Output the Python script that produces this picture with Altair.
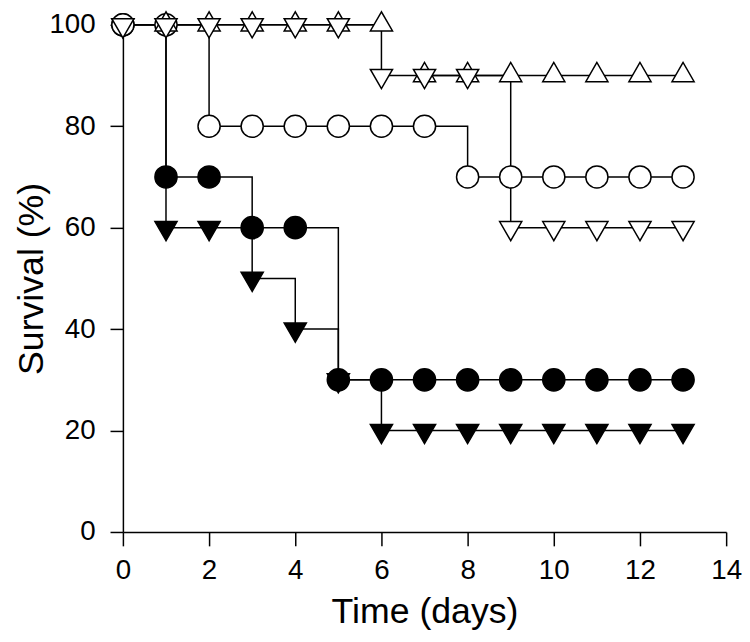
import altair as alt
import pandas as pd

# ---- data ----
days = list(range(14))
filled_circle = [100, 70, 70, 60, 60, 30, 30, 30, 30, 30, 30, 30, 30, 30]
filled_down = [100, 60, 60, 50, 40, 30, 20, 20, 20, 20, 20, 20, 20, 20]
open_circle = [100, 100, 80, 80, 80, 80, 80, 80, 70, 70, 70, 70, 70, 70]
open_down = [100, 100, 100, 100, 100, 100, 90, 90, 90, 60, 60, 60, 60, 60]
open_up_days = list(range(1, 14))
open_up = [100, 100, 100, 100, 100, 100, 90, 90, 90, 90, 90, 90, 90]
open_up_segment = [1, 1, 1, 1, 1, 1, 2, 2, 2, 2, 2, 2, 2]

x_ticks = [0, 2, 4, 6, 8, 10, 12, 14]
y_ticks = [0, 20, 40, 60, 80, 100]

# (name, days, values, segments, shape, fill, yOffset)
series = [
    ("filled_circle", days, filled_circle, [1] * 14, "circle", "black", 0),
    ("filled_down", days, filled_down, [1] * 14, "triangle-down", "black", 3.5),
    ("open_circle", days, open_circle, [1] * 14, "circle", "white", 0),
    ("open_up", open_up_days, open_up, open_up_segment, "triangle-up", "white", -3.5),
    ("open_down", days, open_down, [1] * 14, "triangle-down", "white", 3.5),
]

rows = []
for name, d, v, seg, *_ in series:
    for di, vi, si in zip(d, v, seg):
        rows.append({"day": di, "surv": vi, "series": name, "seg": f"{name}_{si}"})
df = pd.DataFrame(rows)

x_enc = alt.X(
    "day:Q",
    scale=alt.Scale(domain=[0, 14], nice=False),
    axis=alt.Axis(
        values=x_ticks, title="Time (days)", tickSize=14, labelPadding=11,
        labelFlush=False, labelOverlap=False, titleY=91, titleBaseline="alphabetic",
    ),
)
y_enc = alt.Y(
    "surv:Q",
    scale=alt.Scale(domain=[0, 100], nice=False),
    axis=alt.Axis(
        values=y_ticks, title="Survival (%)", tickSize=13, labelPadding=15,
        labelFlush=False, labelOverlap=False, titleX=-81, titleBaseline="alphabetic",
    ),
)

lines = alt.Chart(df).mark_line(
    interpolate="step-after", color="black", strokeWidth=1.5
).encode(x=x_enc, y=y_enc, detail="seg:N")

layers = [lines]
for name, d, v, seg, shape, fill, yoff in series:
    pts = alt.Chart(df[df["series"] == name]).mark_point(
        shape=shape, filled=True, fill=fill, stroke="black", strokeWidth=1.5,
        size=500, opacity=1, yOffset=yoff,
    ).encode(x=x_enc, y=y_enc)
    layers.append(pts)

chart = alt.layer(*layers).properties(
    width=609,
    height=512,
    autosize=alt.AutoSizeParams(type="none"),
    padding={"left": 116, "top": 14, "right": 16, "bottom": 98},
).configure_view(stroke=None).configure_axis(
    grid=False,
    labelFont="Liberation Sans",
    titleFont="Liberation Sans",
    labelFontSize=28,
    titleFontSize=36,
    titleFontWeight="normal",
    labelColor="black",
    titleColor="black",
    domainColor="black",
    tickColor="black",
    domainWidth=1.5,
    tickWidth=1.5,
)

chart.save("out.html", embed_options={"renderer": "svg", "actions": False})
